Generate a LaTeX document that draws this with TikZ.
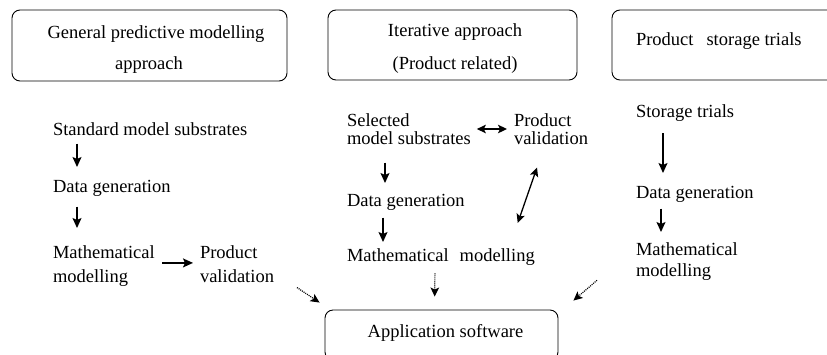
\documentclass[tikz,border=0pt]{standalone}
\usepackage{fontspec}
\setmainfont{Liberation Serif}
\usetikzlibrary{arrows.meta, positioning}
\tikzset{
	headbox/.style={draw, line width=0.9pt, rounded corners=8pt, inner sep=0pt}
}
\tikzset{
	stagetext/.style={font=\fontsize{18.5}{24}\selectfont, inner sep=0pt, outer sep=0pt, anchor=north west, align=left}
}
\tikzset{
	titletext/.style={font=\fontsize{18.5}{31}\selectfont, inner sep=0pt, outer sep=0pt, anchor=north, align=center}
}
\tikzset{
	flowarrow/.style={line width=1.4pt, -{Stealth[length=10pt, width=9pt, inset=2pt]}}
}
\tikzset{
	twowayarrow/.style={line width=1.3pt, {Stealth[length=9pt, width=8.5pt, inset=2pt]}-{Stealth[length=9pt, width=8.5pt, inset=2pt]}}
}
\tikzset{
	softarrow/.style={line width=1.2pt, dash pattern=on 1pt off 1pt, -{Stealth[length=9pt, width=8.5pt, inset=2pt]}}
}

\begin{document}
\begin{tikzpicture}[x=1pt, y=-1pt]

	\clip (0,0) rectangle (827,354);

	\begin{scope}
		\node[headbox, minimum width=275pt, minimum height=71pt] (genbox) at (149.5,45.5) {};
		\node[headbox, minimum width=249pt, minimum height=70pt] (iterbox) at (452.5,45) {};
		\node[headbox, minimum width=249pt, minimum height=70pt] (storebox) at (736.5,45) {};
		\node[headbox, minimum width=233pt, minimum height=50pt] (appbox) at (441.5,335) {};

		\node[titletext] (gentitle) at (156,25.5) {General predictive modelling\\\hspace*{-14pt}approach};
		\node[titletext, font=\fontsize{18.5}{33}\selectfont] (itertitle) at (455,24) {Iterative approach\\(Product related)};
		\node[stagetext] (storetitle) at (636,33) {Product\hspace{13pt}storage trials};
		\node[titletext] (apptitle) at (445.5,324.5) {Application software};
	\end{scope}

	\begin{scope}
		\node[stagetext] (sms) at (53,122.5) {Standard model substrates};
		\node[stagetext] (dg1) at (53,180.5) {Data generation};
		\node[stagetext] (mm1) at (53,245.5) {Mathematical\\modelling};
		\node[stagetext] (pv1) at (200,245.5) {Product\\validation};

		\draw[flowarrow, shorten <=8pt, shorten >=13.5pt] ([xshift=24pt]sms.south west) -- ([xshift=24pt]dg1.north west);
		\draw[flowarrow, shorten <=10pt, shorten >=17.5pt] ([xshift=24pt]dg1.south west) -- ([xshift=24pt]mm1.north west);
		\draw[flowarrow, shorten <=7.5pt, shorten >=7pt] ([yshift=3pt]mm1.east) -- ([yshift=3pt]mm1.east -| pv1.west);
		\draw[softarrow] ([xshift=23pt, yshift=-5pt]pv1.south east) -- ([xshift=-5pt, yshift=7pt]appbox.north west);
	\end{scope}

	\begin{scope}
		\node[stagetext, font=\fontsize{18.5}{18}\selectfont] (sel) at (347,113.5) {Selected\\model substrates};
		\node[stagetext, font=\fontsize{18.5}{18}\selectfont] (pv2) at (514,113.5) {Product\\validation};
		\node[stagetext] (dg2) at (347,194.5) {Data generation};
		\node[stagetext] (mm2) at (347,248.5) {Mathematical\hspace{11pt}modelling};

		\draw[twowayarrow, shorten <=6pt, shorten >=7pt] (sel.east) -- (sel.east -| pv2.west);
		\draw[flowarrow, shorten <=18pt, shorten >=11.5pt] ([xshift=38pt]sel.south west) -- ([xshift=38pt]dg2.north west);
		\draw[flowarrow, shorten <=7pt, shorten >=6.5pt] ([xshift=36pt]dg2.south west) -- ([xshift=36pt]mm2.north west);
		\draw[twowayarrow] ([xshift=-17pt, yshift=25.5pt]mm2.north east) -- ([xshift=23pt, yshift=-23pt]pv2.south west);
		\draw[softarrow, shorten <=8pt, shorten >=13pt] ([xshift=88pt]mm2.south west) -- ([xshift=110pt]appbox.north west);
	\end{scope}

	\begin{scope}
		\node[stagetext] (st) at (636,104.5) {Storage trials};
		\node[stagetext] (dg3) at (636,186.5) {Data generation};
		\node[stagetext, font=\fontsize{18.5}{21}\selectfont] (mm3) at (636,242.5) {Mathematical\\modelling};

		\draw[flowarrow, shorten <=12pt, shorten >=13.5pt] ([xshift=27pt]st.south west) -- ([xshift=27pt]dg3.north west);
		\draw[flowarrow, shorten <=6pt, shorten >=10.5pt] ([xshift=25pt]dg3.south west) -- ([xshift=25pt]mm3.north west);
		\draw[softarrow] ([xshift=-39pt]mm3.south west) -- ([xshift=15pt, yshift=9pt]appbox.north east);
	\end{scope}

\end{tikzpicture}
\end{document}
